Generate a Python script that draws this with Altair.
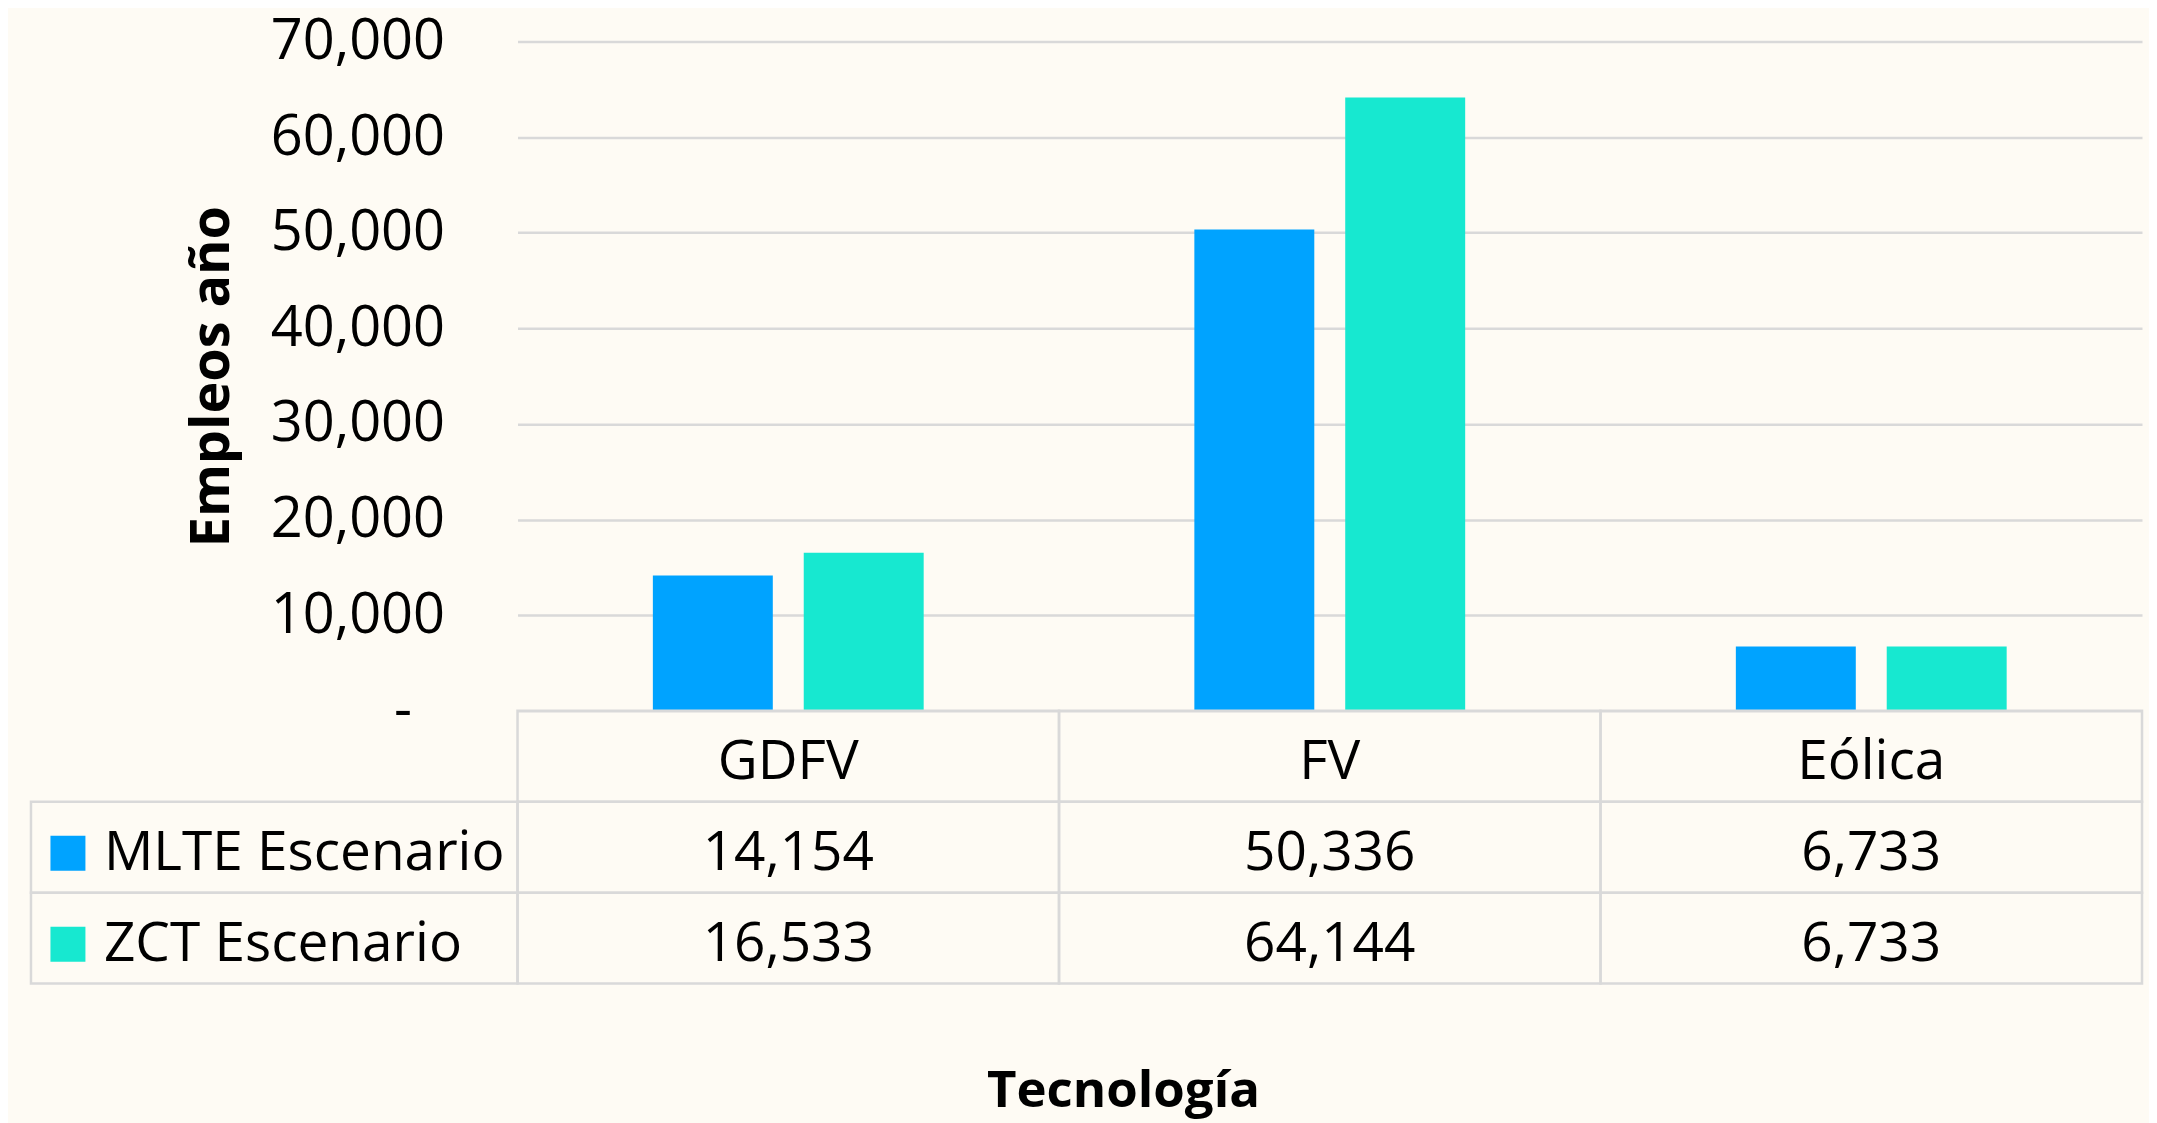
import altair as alt
import pandas as pd

categories = ["GDFV", "FV", "Eólica"]
series = ["MLTE Escenario", "ZCT Escenario"]
mlte_values = [14154, 50336, 6733]
zct_values = [16533, 64144, 6733]
series_colors = ["#00A3FF", "#17E8D0"]
y_ticks = [0, 10000, 20000, 30000, 40000, 50000, 60000, 70000]
header_row = "Tecnología"
rows = [header_row] + series

FONT = "Open Sans"
BG = "#FEFBF4"
GRID = "#D9D9D9"

bar_rows = []
for s, vals in zip(series, [mlte_values, zct_values]):
    for c, v in zip(categories, vals):
        bar_rows.append({"tech": c, "series": s, "value": v})
bar_df = pd.DataFrame(bar_rows)

cell_rows = []
for c in categories:
    cell_rows.append({"tech": c, "row": header_row, "label": c})
for s, vals in zip(series, [mlte_values, zct_values]):
    for c, v in zip(categories, vals):
        cell_rows.append({"tech": c, "row": s, "label": f"{v:,}"})
cell_df = pd.DataFrame(cell_rows)
legend_df = pd.DataFrame({"row": series, "series": series})

x_scale = alt.Scale(domain=categories, paddingInner=0, paddingOuter=0)
color_scale = alt.Scale(domain=series, range=series_colors)
row_scale = alt.Scale(domain=rows, paddingInner=0, paddingOuter=0)

bars = alt.Chart(bar_df).mark_bar().encode(
    x=alt.X("tech:N", scale=x_scale, axis=None),
    xOffset=alt.XOffset("series:N", scale=alt.Scale(domain=series, paddingInner=0.205, paddingOuter=0.897)),
    y=alt.Y(
        "value:Q",
        scale=alt.Scale(domain=[0, 70000], nice=False),
        axis=alt.Axis(
            values=y_ticks,
            labelExpr="datum.value == 0 ? '-' : format(datum.value, ',')",
            labelFont=FONT,
            labelFontSize=56,
            labelColor="#000000",
            labelPadding={"condition": {"test": "datum.value == 0", "value": 106}, "value": 73},
            ticks=False,
            domain=False,
            grid=True,
            gridColor=GRID,
            gridWidth=2.5,
            title="Empleos año",
            titleFont=FONT,
            titleFontSize=54,
            titleFontWeight="bold",
            titleColor="#000000",
            titleX=-278,
            titleY=335,
            titleAngle=270,
            titleAlign="center",
            titleBaseline="bottom",
        ),
    ),
    color=alt.Color("series:N", scale=color_scale, legend=None),
).properties(width=1626, height=670)

x_tab = alt.X(
    "tech:N",
    scale=x_scale,
    axis=alt.Axis(
        labels=False,
        ticks=False,
        domain=False,
        grid=False,
        title="Tecnología",
        titleFont=FONT,
        titleFontSize=51,
        titleFontWeight="bold",
        titleColor="#000000",
        titleX=606,
        titleY=108,
        titleAlign="center",
        titleBaseline="middle",
    ),
)
y_tab = alt.Y("row:N", scale=row_scale, axis=None)

cells = alt.Chart(cell_df).mark_rect(fillOpacity=0, stroke=GRID, strokeWidth=2.5).encode(x=x_tab, y=y_tab)
legend_cells = alt.Chart(legend_df).mark_rect(fillOpacity=0, stroke=GRID, strokeWidth=2.5).encode(
    x=alt.value(-487), x2=alt.value(0), y=y_tab
)
cell_text = alt.Chart(cell_df).mark_text(font=FONT, fontSize=55, color="#000000", yOffset=6).encode(
    x=alt.X("tech:N", scale=x_scale), y=y_tab, text="label:N"
)
legend_marks = alt.Chart(legend_df).mark_square(size=1225, opacity=1, yOffset=6).encode(
    x=alt.value(-450), y=y_tab, color=alt.Color("series:N", scale=color_scale, legend=None)
)
legend_text = alt.Chart(legend_df).mark_text(font=FONT, fontSize=55, color="#000000", align="left", yOffset=6).encode(
    x=alt.value(-414), y=y_tab, text="row:N"
)

table = alt.layer(cells, legend_cells, cell_text, legend_marks, legend_text).properties(width=1626, height=273)

chart = alt.vconcat(bars, table, spacing=0, bounds="flush").properties(
    background=BG,
    padding={"left": 21, "top": 5, "right": 5, "bottom": 8},
).configure_view(stroke=None)

chart.save("out.html", embed_options={"renderer": "svg", "actions": False})
